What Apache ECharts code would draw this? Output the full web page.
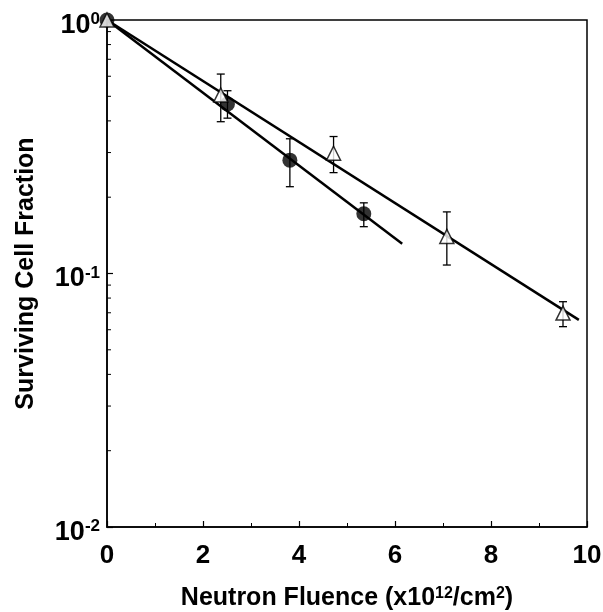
<!DOCTYPE html>
<html>
<head>
<meta charset="utf-8">
<script src="https://cdn.jsdelivr.net/npm/echarts@6/dist/echarts.min.js"></script>
<style>
  html, body { margin: 0; padding: 0; background: #fff; }
  #chart { width: 603px; height: 612px; }
</style>
</head>
<body>
<div id="chart"></div>
<script>
// measured points: [fluence, fraction, errLow, errHigh]
var triangles = [
    [0, 1.0, null, null],
    [2.37, 0.506, 0.397, 0.612],
    [4.72, 0.298, 0.25, 0.347],
    [7.08, 0.14, 0.108, 0.175],
    [9.5, 0.0698, 0.0617, 0.0774]
];
var circles = [
    [0, 1.0, null, null],
    [2.51, 0.466, 0.41, 0.526],
    [3.81, 0.28, 0.22, 0.34],
    [5.35, 0.172, 0.153, 0.19]
];
// fitted exponential lines (end points)
var fitTriangles = [[0, 1.0], [9.83, 0.0656]];
var fitCircles = [[0, 1.0], [6.15, 0.131]];
var xTicks = [0, 2, 4, 6, 8, 10];
var yMinorTicks = [0.02, 0.03, 0.04, 0.05, 0.06, 0.07, 0.08, 0.09,
                   0.2, 0.3, 0.4, 0.5, 0.6, 0.7, 0.8, 0.9];

var chart = echarts.init(document.getElementById('chart'), null, {renderer: 'canvas'});

var font = 'Liberation Sans, Arial, Helvetica, sans-serif';

function errorBars(api) {
    var x = api.value(0), lo = api.value(2), hi = api.value(3);
    if (lo == null || isNaN(lo)) return null;
    var pLo = api.coord([x, lo]);
    var pHi = api.coord([x, hi]);
    var w = 4;
    var st = {stroke: '#000', lineWidth: 1.3};
    return {
        type: 'group',
        children: [
            {type: 'line', shape: {x1: pLo[0], y1: pLo[1], x2: pHi[0], y2: pHi[1]}, style: st},
            {type: 'line', shape: {x1: pLo[0] - w, y1: pLo[1], x2: pLo[0] + w, y2: pLo[1]}, style: st},
            {type: 'line', shape: {x1: pHi[0] - w, y1: pHi[1], x2: pHi[0] + w, y2: pHi[1]}, style: st}
        ]
    };
}

var option = {
    backgroundColor: '#fff',
    animation: false,
    grid: {
        left: 107, right: 16, top: 20, bottom: 85,
        show: true, borderColor: '#000', borderWidth: 1.5,
        outerBoundsMode: 'none'
    },
    xAxis: {
        type: 'value',
        min: 0, max: 10, interval: 2,
        name: '{n|Neutron Fluence (x10}{s|12}{n|/cm}{s|2}{n|)}',
        nameLocation: 'middle',
        nameGap: 59,
        nameTextStyle: {
            rich: {
                n: {fontFamily: font, fontWeight: 'bold', fontSize: 25, color: '#000', verticalAlign: 'bottom'},
                s: {fontFamily: font, fontWeight: 'bold', fontSize: 16, color: '#000', verticalAlign: 'bottom', padding: [0, 0, 9, 0]}
            }
        },
        axisLine: {show: true, lineStyle: {color: '#000', width: 1.5}},
        axisTick: {show: true, inside: true, length: 6, lineStyle: {color: '#000', width: 1.2}},
        minorTick: {show: true, splitNumber: 2, length: 4, lineStyle: {color: '#000', width: 1}},
        splitLine: {show: false},
        axisLabel: {
            margin: 16,
            color: '#000',
            fontFamily: font,
            fontWeight: 'bold',
            fontSize: 26,
            formatter: function (v) { return xTicks.indexOf(v) >= 0 ? String(v) : ''; }
        }
    },
    yAxis: {
        type: 'log',
        logBase: 10,
        min: 0.01, max: 1,
        interval: 1,
        name: 'Surviving Cell Fraction',
        nameLocation: 'middle',
        nameGap: 68,
        nameTextStyle: {fontFamily: font, fontWeight: 'bold', fontSize: 25, color: '#000'},
        axisLine: {show: true, lineStyle: {color: '#000', width: 1.5}},
        axisTick: {show: true, inside: true, length: 6, lineStyle: {color: '#000', width: 1.2}},
        splitLine: {show: false},
        axisLabel: {
            margin: 7,
            padding: [10, 0, 0, 0],
            formatter: function (v) {
                var e = Math.round(Math.log(v) / Math.LN10);
                return '{b|10}{s|' + e + '}';
            },
            rich: {
                b: {fontFamily: font, fontWeight: 'bold', fontSize: 27, color: '#000', verticalAlign: 'bottom'},
                s: {fontFamily: font, fontWeight: 'bold', fontSize: 17, color: '#000', verticalAlign: 'bottom', padding: [0, 0, 11, 0]}
            }
        }
    },
    series: [
        {
            type: 'custom',
            name: 'minor ticks',
            silent: true,
            z: 1,
            data: yMinorTicks.map(function (v) { return [0, v]; }),
            renderItem: function (params, api) {
                var p = api.coord([0, api.value(1)]);
                return {
                    type: 'line',
                    shape: {x1: p[0], y1: p[1], x2: p[0] + 4, y2: p[1]},
                    style: {stroke: '#000', lineWidth: 1}
                };
            }
        },
        {
            type: 'line',
            name: 'fit triangles',
            data: fitTriangles,
            symbol: 'none',
            z: 2,
            lineStyle: {color: '#000', width: 2.5}
        },
        {
            type: 'line',
            name: 'fit circles',
            data: fitCircles,
            symbol: 'none',
            z: 2,
            lineStyle: {color: '#000', width: 2.5}
        },
        {
            type: 'custom',
            name: 'err circles',
            z: 3,
            data: circles,
            renderItem: function (params, api) { return errorBars(api); }
        },
        {
            type: 'custom',
            name: 'err triangles',
            z: 3,
            data: triangles,
            renderItem: function (params, api) { return errorBars(api); }
        },
        {
            type: 'scatter',
            name: 'circles',
            z: 4,
            data: circles.map(function (d) { return [d[0], d[1]]; }),
            symbol: 'circle',
            symbolSize: 15,
            itemStyle: {color: '#000'}
        },
        {
            type: 'scatter',
            name: 'triangles',
            z: 5,
            data: triangles.map(function (d) { return [d[0], d[1]]; }),
            symbol: 'triangle',
            symbolSize: 14,
            itemStyle: {color: '#fff', borderColor: '#000', borderWidth: 1.5}
        }
    ]
};

chart.setOption(option);
</script>
</body>
</html>
